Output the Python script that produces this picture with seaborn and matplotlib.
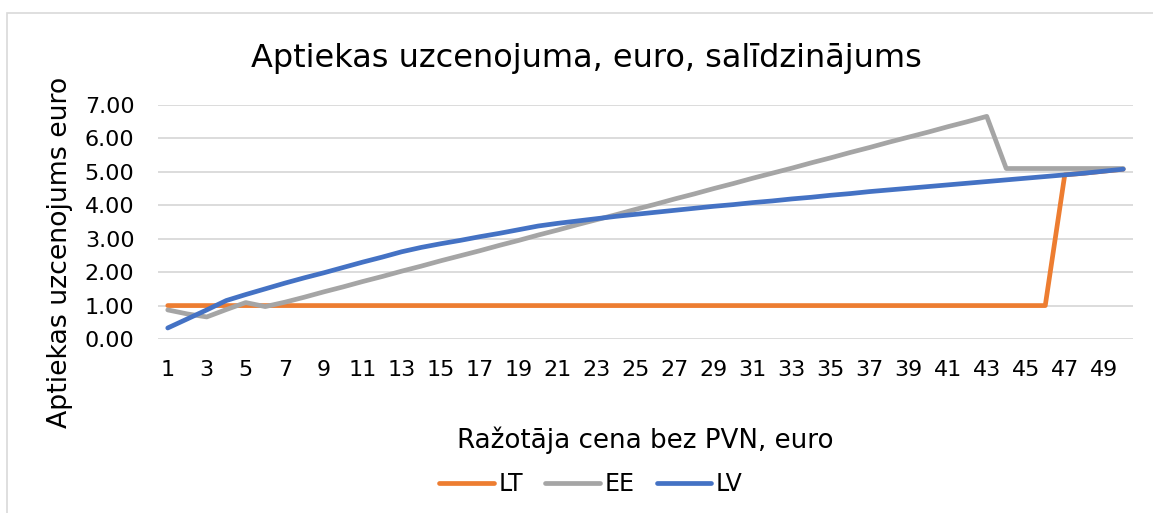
import numpy as np
import pandas as pd
import matplotlib
matplotlib.use("Agg")
import matplotlib.pyplot as plt
import seaborn as sns
from matplotlib.patches import Rectangle

# ─── data ────────────────────────────────────────────────────────────────────
prices = list(range(1, 51))

lt = [1.00] * 46 + [4.91, 4.96, 5.02, 5.08]

ee = [0.87, 0.75, 0.66, 0.88, 1.09, 0.97,
      1.10, 1.25, 1.41, 1.56, 1.72, 1.87, 2.03, 2.18, 2.34, 2.49,
      2.64, 2.80, 2.95, 3.11, 3.26, 3.42, 3.57, 3.72, 3.88, 4.03,
      4.19, 4.34, 4.50, 4.65, 4.81, 4.96, 5.11, 5.27, 5.42, 5.58,
      5.73, 5.89, 6.04, 6.19, 6.35, 6.50, 6.66,
      5.10, 5.10, 5.10, 5.10, 5.10, 5.10, 5.10]

lv = [0.33, 0.60, 0.87, 1.15, 1.33, 1.50, 1.67, 1.83, 1.98, 2.14,
      2.30, 2.45, 2.61, 2.74, 2.85, 2.95, 3.06, 3.16, 3.27, 3.38,
      3.46, 3.53, 3.60, 3.67, 3.73, 3.79, 3.85, 3.91, 3.97, 4.02,
      4.08, 4.13, 4.19, 4.24, 4.30, 4.35, 4.41, 4.46, 4.51, 4.56,
      4.61, 4.66, 4.71, 4.76, 4.81, 4.86, 4.91, 4.96, 5.02, 5.08]

series_names = ["LT", "EE", "LV"]
series_colors = ["#ED7D31", "#A5A5A5", "#4472C4"]
y_ticks = [0, 1, 2, 3, 4, 5, 6, 7]
x_ticks = list(range(1, 50, 2))

df = pd.DataFrame({
    "cena": prices * 3,
    "uzcenojums": lt + ee + lv,
    "valsts": ["LT"] * 50 + ["EE"] * 50 + ["LV"] * 50,
})

sns.set_style("white")
plt.rcParams["font.family"] = ["DejaVu Sans"]
plt.rcParams["text.color"] = "black"

fig = plt.figure(figsize=(11.53, 5.13), dpi=100)
# plot area in pixels: x 158..1133, y 105..339
ax = fig.add_axes([158 / 1153, 1 - 339 / 513, 975 / 1153, 234 / 513])

sns.lineplot(data=df, x="cena", y="uzcenojums", hue="valsts",
             hue_order=series_names, palette=series_colors,
             linewidth=3.4, ax=ax, legend=True)

ax.set_xlim(0.5, 50.5)
ax.set_ylim(0, 7)
ax.set_xticks(x_ticks)
ax.set_xticklabels([str(v) for v in x_ticks])
ax.set_yticks(y_ticks)
ax.set_yticklabels([f"{v:.2f}" for v in y_ticks])
ax.tick_params(axis="both", labelsize=16, length=0, labelcolor="black")
ax.tick_params(axis="x", pad=15)
ax.tick_params(axis="y", pad=17)
ax.grid(axis="y", color="#D9D9D9", linewidth=1.3)
ax.set_axisbelow(True)
for s in ax.spines.values():
    s.set_visible(False)

ax.set_xlabel("Ražotāja cena bez PVN, euro", fontsize=18.8, color="black")
ax.set_ylabel("Aptiekas uzcenojums euro", fontsize=19.3, color="black")
ax.xaxis.set_label_coords(0.5, -(440 - 339) / 234.0)
ax.xaxis.label.set_va("center")
ax.yaxis.set_label_coords(-(158 - 60) / 975.0, 1 - (252 - 105) / 234.0)
ax.yaxis.label.set_va("center")

fig.text(586 / 1153, 1 - 58 / 513, "Aptiekas uzcenojuma, euro, salīdzinājums",
         ha="center", va="center", fontsize=23, color="black")

handles, labels = ax.get_legend_handles_labels()
ax.legend_.remove()
fig.legend(handles, labels, loc="center", bbox_to_anchor=(591 / 1153, 1 - 484 / 513),
           ncol=3, frameon=False, fontsize=17, handlelength=2.3,
           handletextpad=0.2, columnspacing=0.95)

fig.patches.append(Rectangle((7 / 1153, -0.05), 1.2, 1 - 13 / 513 + 0.05,
                             transform=fig.transFigure, fill=False,
                             edgecolor="#D9D9D9", linewidth=1.2))

fig.savefig("out.png", dpi=100)
